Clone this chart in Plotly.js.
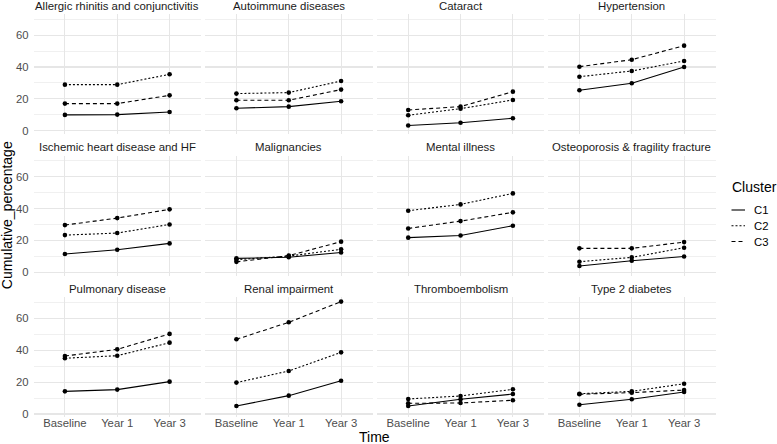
<!DOCTYPE html>
<html>
<head>
<meta charset="utf-8">
<script src="https://cdn.plot.ly/plotly-3.0.1.min.js"></script>
<style>html,body{margin:0;padding:0;background:#fff;}#chart{width:777px;height:444px;}</style>
</head>
<body>
<div id="chart"></div>
<script>
// ---- data ----
const times = ["Baseline", "Year 1", "Year 3"];
const clusters = ["C1", "C2", "C3"];
const conditions = [
  "Allergic rhinitis and conjunctivitis", "Autoimmune diseases", "Cataract", "Hypertension",
  "Ischemic heart disease and HF", "Malignancies", "Mental illness", "Osteoporosis & fragility fracture",
  "Pulmonary disease", "Renal impairment", "Thromboembolism", "Type 2 diabetes"
];
const c1 = [
  [9.9, 10.1, 11.7], [14.1, 15.1, 18.5], [3.2, 5.0, 7.8], [25.4, 29.8, 40.0],
  [11.5, 14.2, 18.2], [8.8, 9.5, 12.5], [21.8, 23.2, 29.3], [4.0, 7.3, 10.0],
  [14.2, 15.3, 20.3], [5.0, 11.5, 20.9], [5.0, 9.2, 12.5], [5.8, 9.2, 13.8]
];
const c2 = [
  [28.9, 28.9, 35.4], [23.3, 23.9, 31.2], [9.7, 13.8, 19.3], [33.9, 37.5, 43.8],
  [23.4, 24.7, 30.1], [8.0, 10.2, 14.5], [38.7, 42.7, 49.6], [6.7, 9.4, 15.5],
  [35.0, 36.6, 44.8], [19.7, 27.0, 38.7], [9.4, 11.3, 15.5], [12.7, 14.2, 19.0]
];
const c3 = [
  [17.0, 17.0, 22.2], [19.1, 19.1, 25.8], [13.0, 15.1, 24.5], [40.2, 44.6, 53.4],
  [29.7, 34.1, 39.6], [6.6, 10.5, 19.3], [27.6, 32.2, 37.7], [15.1, 15.1, 19.0],
  [36.4, 40.6, 50.3], [46.9, 57.6, 70.6], [6.7, 6.9, 8.6], [12.4, 13.4, 15.0]
];
const yTicks = [0, 20, 40, 60];
const yMinor = [10, 30, 50, 70];

// ---- styling / geometry ----
const W = 777, H = 444;
const FONT = "Liberation Sans, Arial, Helvetica, sans-serif";
const colLeft = [33.5, 205, 376.8, 548];
const panelW = 167.5;
const rowTop = [14, 155.7, 297.3];
const panelH = 120;
const GRID = "#E6E6E6";
const dashes = ["solid", "2px,2px", "4px,3px"];
const series = [c1, c2, c3];
const px = x => x / W;
const py = y => 1 - y / H;

const traces = [];
const layout = {
  width: W, height: H,
  margin: {l: 0, r: 0, t: 0, b: 0},
  paper_bgcolor: "#fff", plot_bgcolor: "#fff",
  showlegend: false,
  font: {family: FONT, color: "#000"},
  annotations: [], shapes: []
};

conditions.forEach((cond, p) => {
  const row = Math.floor(p / 4), col = p % 4;
  const n = p + 1;
  const xa = "x" + (n === 1 ? "" : n), ya = "y" + (n === 1 ? "" : n);
  series.forEach((s, k) => {
    traces.push({
      type: "scatter", mode: "lines+markers",
      x: times, y: s[p], xaxis: xa, yaxis: ya,
      name: clusters[k], showlegend: false,
      line: {color: "#000", width: 1.1, dash: dashes[k]},
      marker: {color: "#000", size: 4.6},
      hoverinfo: "x+y+name"
    });
  });
  const l = colLeft[col], t = rowTop[row];
  layout["xaxis" + (n === 1 ? "" : n)] = {
    domain: [px(l), px(l + panelW)], anchor: ya,
    type: "category", categoryorder: "array", categoryarray: times,
    range: [-0.6, 2.6], showgrid: true, gridcolor: GRID, gridwidth: 1.1,
    zeroline: false, showline: false, ticks: "",
    showticklabels: row === 2, ticklabelstandoff: -3,
    tickfont: {family: FONT, size: 11.3, color: "#4D4D4D"},
    fixedrange: true
  };
  layout["yaxis" + (n === 1 ? "" : n)] = {
    domain: [py(t + panelH), py(t)], anchor: xa,
    range: [-2.1, 73.3], tickvals: yTicks, ticktext: yTicks.map(String),
    showgrid: true, gridcolor: GRID, gridwidth: 1.1,
    minor: {tickvals: yMinor, showgrid: true, gridcolor: GRID, gridwidth: 0.6, ticks: ""},
    zeroline: false, showline: false, ticks: "",
    showticklabels: col === 0, ticklabelstandoff: 4,
    tickfont: {family: FONT, size: 11.3, color: "#4D4D4D"},
    fixedrange: true
  };
  layout.annotations.push({
    text: cond, xref: "paper", yref: "paper",
    x: px(l + panelW / 2), y: py(t - 8.3), xanchor: "center", yanchor: "middle",
    showarrow: false, font: {family: FONT, size: 11.4, color: "#1A1A1A"}
  });
});

// axis titles
layout.annotations.push({
  text: "Time", xref: "paper", yref: "paper",
  x: px(374.5), y: py(437), xanchor: "center", yanchor: "middle",
  showarrow: false, font: {family: FONT, size: 14, color: "#000"}
});
layout.annotations.push({
  text: "Cumulative_percentage", xref: "paper", yref: "paper", textangle: -90,
  x: px(6.5), y: py(215.7), xanchor: "center", yanchor: "middle",
  showarrow: false, font: {family: FONT, size: 14, color: "#000"}
});

// legend (keys drawn as shapes, labels as text)
layout.annotations.push({
  text: "Cluster", xref: "paper", yref: "paper",
  x: px(729.5), y: py(186.7), xanchor: "left", yanchor: "middle",
  showarrow: false, font: {family: FONT, size: 14, color: "#000"}
});
const legY = [210, 225.7, 241.5];
clusters.forEach((c, k) => {
  layout.shapes.push({
    type: "line", xref: "paper", yref: "paper",
    x0: px(731.5), x1: px(745), y0: py(legY[k]), y1: py(legY[k]),
    line: {color: "#000", width: 1.1, dash: dashes[k]}
  });
  layout.annotations.push({
    text: c, xref: "paper", yref: "paper",
    x: px(751.5), y: py(legY[k]), xanchor: "left", yanchor: "middle",
    showarrow: false, font: {family: FONT, size: 11.3, color: "#000"}
  });
});

Plotly.newPlot("chart", traces, layout, {staticPlot: true, displayModeBar: false});
</script>
</body>
</html>
